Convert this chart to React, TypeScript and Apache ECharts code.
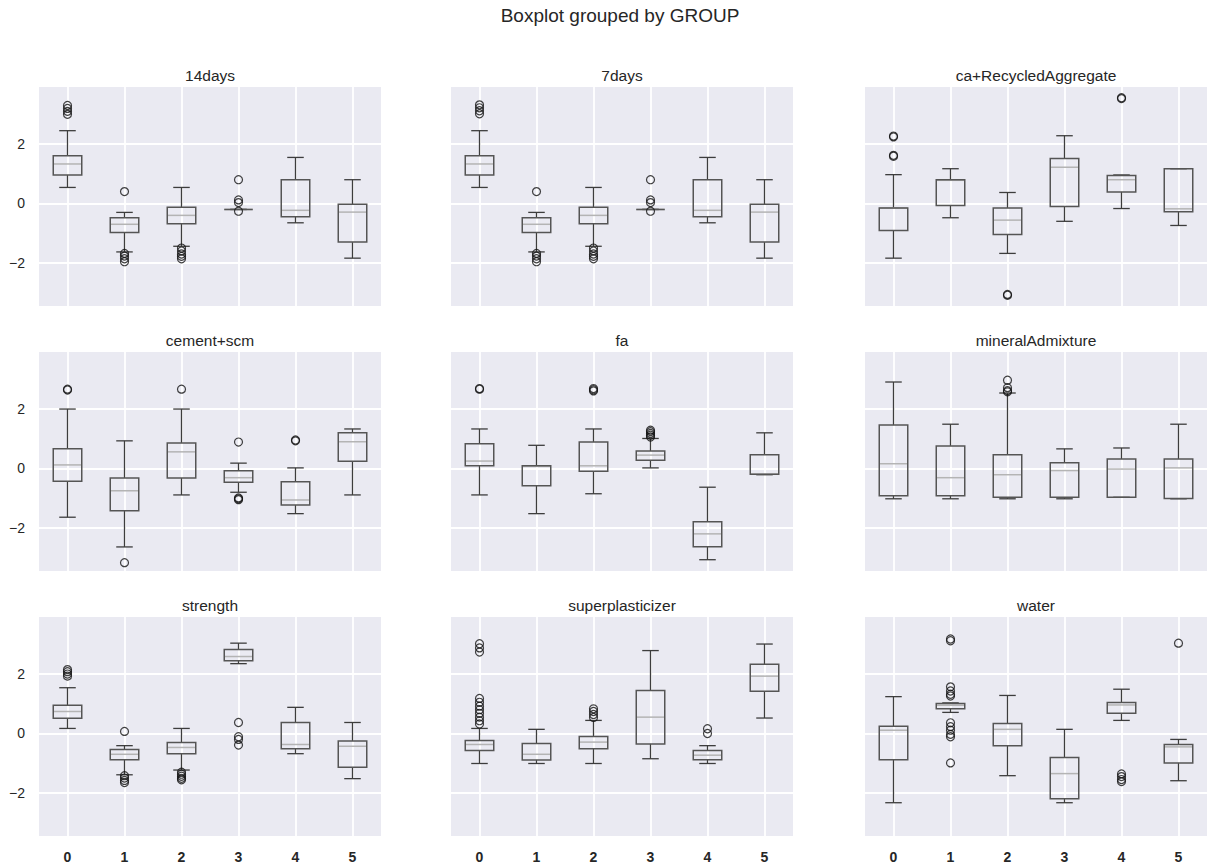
import React, { useEffect, useRef } from "react";
import * as echarts from "echarts";

// Group labels along the x axis
const GROUPS = [0, 1, 2, 3, 4, 5];
const Y_TICKS = [-2, 0, 2];
const Y_MIN = -3.45;
const Y_MAX = 3.92;

const FIGURE_TITLE = "Boxplot grouped by GROUP";

// Box statistics per group: [lowWhisker, q1, median, q3, highWhisker]
const days14Box = [
  [0.54, 0.96, 1.33, 1.61, 2.45],
  [-1.63, -0.98, -0.7, -0.48, -0.3],
  [-1.44, -0.68, -0.4, -0.13, 0.54],
  [-0.2, -0.2, -0.2, -0.2, -0.2],
  [-0.65, -0.45, -0.23, 0.8, 1.55],
  [-1.84, -1.3, -0.29, -0.03, 0.8],
];
const days14Fliers = [
  [3.3, 3.2, 3.1, 3.0],
  [0.4, -1.68, -1.77, -1.86, -1.96],
  [-1.5, -1.6, -1.7, -1.78, -1.86],
  [0.8, 0.12, 0.03, -0.26],
  [],
  [],
];

const days7Box = [
  [0.54, 0.96, 1.33, 1.61, 2.45],
  [-1.63, -0.98, -0.7, -0.48, -0.3],
  [-1.44, -0.68, -0.4, -0.13, 0.54],
  [-0.2, -0.2, -0.2, -0.2, -0.2],
  [-0.65, -0.45, -0.23, 0.8, 1.55],
  [-1.84, -1.3, -0.29, -0.03, 0.8],
];
const days7Fliers = [
  [3.32, 3.22, 3.12, 3.02],
  [0.4, -1.68, -1.77, -1.86, -1.96],
  [-1.5, -1.6, -1.7, -1.78, -1.86],
  [0.8, 0.12, 0.03, -0.26],
  [],
  [],
];

const recycledBox = [
  [-1.84, -0.91, -0.15, -0.15, 0.97],
  [-0.48, -0.07, 0.78, 0.8, 1.17],
  [-1.68, -1.04, -0.56, -0.15, 0.37],
  [-0.6, -0.1, 1.22, 1.51, 2.28],
  [-0.17, 0.39, 0.8, 0.94, 0.96],
  [-0.74, -0.28, -0.18, 1.17, 1.17],
];
const recycledFliers = [
  [2.27, 2.24, 1.62, 1.59],
  [],
  [-3.06, -3.09],
  [],
  [3.56, 3.53],
  [],
];

const cementBox = [
  [-1.64, -0.43, 0.12, 0.66, 2.0],
  [-2.64, -1.42, -0.75, -0.32, 0.93],
  [-0.89, -0.32, 0.56, 0.86, 2.0],
  [-0.8, -0.46, -0.31, -0.08, 0.18],
  [-1.52, -1.23, -1.06, -0.45, 0.02],
  [-0.89, 0.24, 0.9, 1.2, 1.33],
];
const cementFliers = [
  [2.67, 2.64],
  [-3.17],
  [2.67],
  [0.89, -0.99, -1.02, -1.05],
  [0.96, 0.93],
  [],
];

const faBox = [
  [-0.89, 0.09, 0.25, 0.83, 1.33],
  [-1.52, -0.58, 0.07, 0.09, 0.78],
  [-0.85, -0.09, 0.09, 0.89, 1.33],
  [0.02, 0.28, 0.45, 0.59, 1.01],
  [-3.07, -2.63, -2.2, -1.79, -0.63],
  [-0.21, -0.19, -0.19, 0.46, 1.2],
];
const faFliers = [
  [2.69, 2.67],
  [],
  [2.69, 2.65, 2.61],
  [1.06, 1.12, 1.18, 1.24, 1.29],
  [],
  [],
];

const mineralBox = [
  [-1.02, -0.92, 0.16, 1.46, 2.91],
  [-1.02, -0.92, -0.31, 0.76, 1.49],
  [-1.02, -0.97, -0.21, 0.46, 2.54],
  [-1.02, -0.97, -0.07, 0.19, 0.66],
  [-0.97, -0.97, -0.02, 0.32, 0.69],
  [-1.02, -1.01, 0.02, 0.32, 1.49],
];
const mineralFliers = [[], [], [2.97, 2.72, 2.62, 2.58], [], [], []];

const strengthBox = [
  [0.17, 0.51, 0.74, 0.95, 1.54],
  [-1.39, -0.88, -0.7, -0.54, -0.41],
  [-1.23, -0.68, -0.47, -0.3, 0.17],
  [2.35, 2.45, 2.59, 2.83, 3.04],
  [-0.68, -0.51, -0.37, 0.37, 0.88],
  [-1.52, -1.14, -0.43, -0.25, 0.37],
];
const strengthFliers = [
  [2.15, 2.08, 2.0, 1.93],
  [0.07, -1.42, -1.5, -1.58, -1.65],
  [-1.3, -1.37, -1.44, -1.51, -1.56],
  [0.37, -0.11, -0.2, -0.39],
  [],
  [],
];

const superBox = [
  [-1.01, -0.57, -0.37, -0.24, 0.17],
  [-1.01, -0.89, -0.7, -0.34, 0.14],
  [-1.01, -0.51, -0.29, -0.1, 0.44],
  [-0.85, -0.35, 0.55, 1.45, 2.79],
  [-1.01, -0.88, -0.73, -0.57, -0.41],
  [0.52, 1.42, 1.93, 2.33, 3.01],
];
const superFliers = [
  [3.02, 2.88, 2.74, 1.18, 1.05, 0.92, 0.8, 0.68, 0.55, 0.43, 0.32],
  [],
  [0.83, 0.74, 0.64, 0.54],
  [],
  [0.16, 0.0],
  [],
];

const waterBox = [
  [-2.33, -0.88, 0.11, 0.24, 1.24],
  [0.71, 0.83, 0.95, 1.01, 1.03],
  [-1.42, -0.41, 0.14, 0.34, 1.28],
  [-2.33, -2.2, -1.35, -0.81, 0.14],
  [0.44, 0.68, 0.96, 1.04, 1.49],
  [-1.59, -0.99, -0.45, -0.37, -0.2],
];
const waterFliers = [
  [],
  [3.18, 3.12, 1.57, 1.43, 1.32, 1.26, 0.36, 0.23, 0.11, -0.03, -0.11, -0.99],
  [],
  [],
  [-1.36, -1.45, -1.55, -1.62],
  [3.04],
];

const PANELS = [
  { title: "14days", box: days14Box, fliers: days14Fliers },
  { title: "7days", box: days7Box, fliers: days7Fliers },
  { title: "ca+RecycledAggregate", box: recycledBox, fliers: recycledFliers },
  { title: "cement+scm", box: cementBox, fliers: cementFliers },
  { title: "fa", box: faBox, fliers: faFliers },
  { title: "mineralAdmixture", box: mineralBox, fliers: mineralFliers },
  { title: "strength", box: strengthBox, fliers: strengthFliers },
  { title: "superplasticizer", box: superBox, fliers: superFliers },
  { title: "water", box: waterBox, fliers: waterFliers },
];

// Subplot layout (pixels)
const COL_LEFT = [39, 451, 865];
const ROW_TOP = [87, 352, 617];
const GRID_W = 342;
const GRID_H = 219;

const FONT = "'Liberation Sans', Arial, Helvetica, sans-serif";
const TEXT_COLOR = "#262626";
const PANEL_BG = "#EAEAF2";
const BOX_COLOR = "#555555";
const WHISKER_COLOR = "#3d3d3d";
const MEDIAN_COLOR = "#b4b4b4";

const minusFmt = (v: number) => (v < 0 ? "\u2212" + Math.abs(v) : String(v));

// Draws one matplotlib-style box: whiskers, caps, median and the box outline
function renderBox(params: any, api: any) {
  const x = api.value(0);
  const unit = api.size([1, 0])[0];
  const halfBox = unit * 0.25;
  const halfCap = unit * 0.145;
  const pt = (v: number) => api.coord([x, v]);
  const [cx, yLow] = pt(api.value(1));
  const yQ1 = pt(api.value(2))[1];
  const yMed = pt(api.value(3))[1];
  const yQ3 = pt(api.value(4))[1];
  const yHigh = pt(api.value(5))[1];
  const wStyle = { stroke: WHISKER_COLOR, lineWidth: 1.3 };
  return {
    type: "group",
    children: [
      { type: "line", shape: { x1: cx, y1: yHigh, x2: cx, y2: yQ3 }, style: wStyle },
      { type: "line", shape: { x1: cx, y1: yQ1, x2: cx, y2: yLow }, style: wStyle },
      { type: "line", shape: { x1: cx - halfCap, y1: yHigh, x2: cx + halfCap, y2: yHigh }, style: wStyle },
      { type: "line", shape: { x1: cx - halfCap, y1: yLow, x2: cx + halfCap, y2: yLow }, style: wStyle },
      {
        type: "line",
        shape: { x1: cx - halfBox, y1: yMed, x2: cx + halfBox, y2: yMed },
        style: { stroke: MEDIAN_COLOR, lineWidth: 1.5 },
      },
      {
        type: "rect",
        shape: { x: cx - halfBox, y: yQ3, width: halfBox * 2, height: yQ1 - yQ3 },
        style: { fill: "none", stroke: BOX_COLOR, lineWidth: 1.5 },
      },
    ],
  };
}

function buildOption() {
  const grid: any[] = [];
  const xAxis: any[] = [];
  const yAxis: any[] = [];
  const series: any[] = [];
  const graphic: any[] = [
    {
      type: "text",
      x: 620,
      y: 15,
      style: {
        text: FIGURE_TITLE,
        font: `19px ${FONT}`,
        fill: TEXT_COLOR,
        textAlign: "center",
        textVerticalAlign: "middle",
      },
    },
  ];

  PANELS.forEach((panel, i) => {
    const row = Math.floor(i / 3);
    const col = i % 3;
    const left = COL_LEFT[col];
    const top = ROW_TOP[row];
    grid.push({
      left,
      top,
      width: GRID_W,
      height: GRID_H,
      show: true,
      backgroundColor: PANEL_BG,
      borderWidth: 0,
    });
    xAxis.push({
      type: "value",
      gridIndex: i,
      min: -0.5,
      max: 5.5,
      axisLine: { show: false },
      axisTick: { show: false, customValues: GROUPS },
      axisLabel: {
        show: row === 2,
        customValues: GROUPS,
        margin: 14,
        fontSize: 14,
        fontWeight: "bold",
        fontFamily: FONT,
        color: TEXT_COLOR,
      },
      splitLine: { show: true, lineStyle: { color: "#ffffff", width: 1.8 } },
    });
    yAxis.push({
      type: "value",
      gridIndex: i,
      min: Y_MIN,
      max: Y_MAX,
      axisLine: { show: false },
      axisTick: { show: false, customValues: Y_TICKS },
      axisLabel: {
        show: col === 0,
        customValues: Y_TICKS,
        margin: 14,
        fontSize: 14,
        fontFamily: FONT,
        color: TEXT_COLOR,
        formatter: minusFmt,
      },
      splitLine: { show: true, lineStyle: { color: "#ffffff", width: 1.8 } },
    });
    series.push({
      type: "custom",
      name: panel.title + " boxes",
      xAxisIndex: i,
      yAxisIndex: i,
      renderItem: renderBox,
      encode: { x: 0, y: [1, 2, 3, 4, 5] },
      data: panel.box.map((b, g) => [GROUPS[g], ...b]),
      z: 2,
    });
    const flierData: number[][] = [];
    panel.fliers.forEach((vals, g) => vals.forEach((v) => flierData.push([GROUPS[g], v])));
    series.push({
      type: "scatter",
      name: panel.title + " outliers",
      xAxisIndex: i,
      yAxisIndex: i,
      data: flierData,
      symbol: "circle",
      symbolSize: 8,
      itemStyle: { color: "rgba(0,0,0,0)", borderColor: "#111111", borderWidth: 1.2 },
      z: 3,
    });
    graphic.push({
      type: "text",
      x: left + GRID_W / 2,
      y: top - 12,
      style: {
        text: panel.title,
        font: `15.5px ${FONT}`,
        fill: TEXT_COLOR,
        textAlign: "center",
        textVerticalAlign: "middle",
      },
    });
  });

  return {
    animation: false,
    backgroundColor: "#ffffff",
    grid,
    xAxis,
    yAxis,
    series,
    graphic,
  };
}

export default function App() {
  const ref = useRef<HTMLDivElement>(null);
  useEffect(() => {
    if (!ref.current) return;
    const chart = echarts.init(ref.current, undefined, { renderer: "svg" });
    chart.setOption(buildOption() as any);
    return () => chart.dispose();
  }, []);
  return (
    <div
      ref={ref}
      style={{ position: "absolute", left: 0, top: 0, width: 1208, height: 868 }}
    />
  );
}
